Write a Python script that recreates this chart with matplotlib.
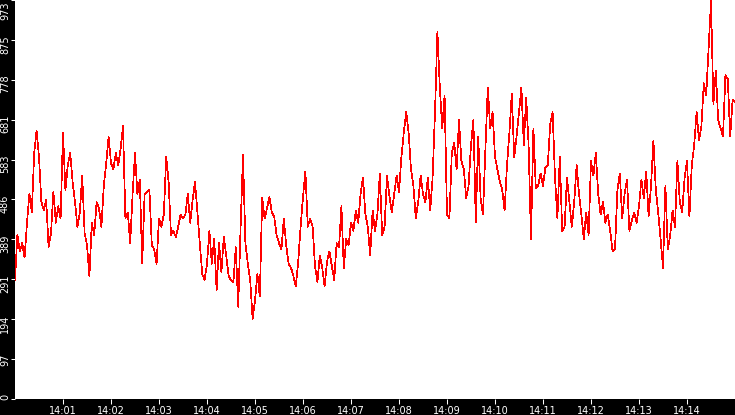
import numpy as np
import matplotlib
matplotlib.use("Agg")
import matplotlib.pyplot as plt

# one sample every 3 s, from 14:00:00 to 14:15:00
step_s = 3
values = [
    290, 400, 360, 380, 345, 430, 500, 455, 600, 655, 590, 480, 460, 485, 370, 405, 505, 430, 470, 440,
    650, 510, 570, 600, 530, 480, 420, 455, 545, 405, 375, 300, 430, 400, 480, 465, 420, 520, 575, 640,
    575, 560, 600, 570, 610, 665, 440, 455, 380, 500, 600, 500, 535, 330, 500, 505, 510, 375, 365, 330,
    440, 420, 450, 590, 530, 400, 410, 395, 420, 450, 440, 450, 500, 430, 485, 530, 455, 380, 305, 290,
    330, 410, 330, 390, 265, 380, 310, 395, 350, 300, 290, 285, 370, 225, 420, 595, 380, 330, 290, 195,
    240, 305, 250, 490, 440, 465, 493, 455, 445, 400, 380, 365, 440, 375, 330, 320, 300, 275, 335, 420,
    493, 555, 420, 440, 420, 325, 285, 350, 320, 275, 335, 360, 325, 290, 380, 370, 470, 320, 390, 375,
    430, 410, 460, 430, 500, 540, 450, 420, 350, 460, 410, 450, 550, 400, 420, 545, 495, 455, 500, 545,
    505, 590, 650, 700, 650, 560, 520, 440, 480, 545, 500, 480, 540, 460, 540, 700, 895, 760, 660, 740,
    450, 440, 600, 625, 560, 680, 580, 560, 490, 520, 620, 680, 430, 640, 490, 450, 610, 760, 660, 700,
    590, 560, 530, 510, 460, 570, 650, 745, 590, 640, 700, 760, 620, 735, 620, 390, 660, 515, 520, 550,
    520, 565, 570, 670, 700, 540, 440, 590, 410, 420, 540, 480, 420, 480, 570, 500, 450, 390, 455, 400,
    580, 545, 600, 500, 450, 480, 430, 450, 410, 360, 365, 510, 550, 440, 500, 535, 410, 435, 455, 430,
    470, 535, 490, 555, 445, 520, 630, 510, 455, 390, 320, 520, 365, 400, 460, 420, 580, 480, 455, 540,
    580, 445, 570, 620, 700, 630, 665, 770, 740, 855, 970, 720, 800, 680, 660, 640, 790, 780, 640, 730, 725,
]

x_tick_secs = [60, 120, 180, 240, 300, 360, 420, 480, 540, 600, 660, 720, 780, 840]
x_labels = ["14:01", "14:02", "14:03", "14:04", "14:05", "14:06", "14:07",
            "14:08", "14:09", "14:10", "14:11", "14:12", "14:13", "14:14"]
y_ticks = [0, 97.3, 194.6, 291.9, 389.2, 486.5, 583.8, 681.1, 778.4, 875.7, 973]
y_labels = ["0", "97", "194", "291", "389", "486", "583", "681", "778", "875", "973"]

t = np.arange(len(values)) * step_s

fig = plt.figure(figsize=(7.35, 4.15), dpi=100, facecolor="black")
ax = fig.add_axes([15 / 735, 16 / 415, 720 / 735, 399 / 415])
ax.set_facecolor("white")

ax.plot(t, values, color="#ff0000", lw=0.5, antialiased=False)

ax.set_xlim(0, 900)
ax.set_ylim(0, 973)
for s in ax.spines.values():
    s.set_visible(False)

ax.set_xticks(x_tick_secs)
ax.set_xticklabels(x_labels)
ax.tick_params(axis="x", colors="white", length=3.6, width=0.75, pad=1.2, labelsize=7)

ax.set_yticks(y_ticks)
ax.set_yticklabels([])
ax.tick_params(axis="y", colors="white", length=2.9, width=0.75)

# rotated y labels, sitting a little above their tick
for v, lab in zip(y_ticks, y_labels):
    dy = 5 if v < 900 else -2
    ax.annotate(lab, xy=(0, v), xycoords=("axes fraction", "data"),
                xytext=(-5, dy), textcoords="offset pixels",
                rotation=90, ha="right", va="top", color="white",
                fontsize=7, annotation_clip=False)

fig.savefig("out.png", dpi=100, facecolor="black")
